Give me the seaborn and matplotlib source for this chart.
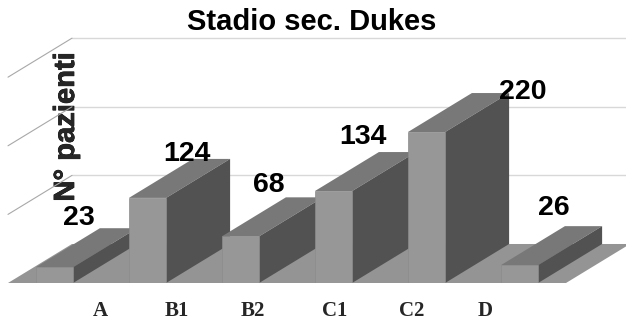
import matplotlib
matplotlib.use("Agg")
import matplotlib.pyplot as plt
import matplotlib.patheffects as pe
import pandas as pd
import seaborn as sns

# Patients per Dukes stage
stages = ["A", "B1", "B2", "C1", "C2", "D"]
patients = [23, 124, 68, 134, 220, 26]
grid_values = [100, 200, 300]

# Stage names sit on their own spacing along the floor edge
stage_label_positions = [0.49, 1.31, 2.13, 3.01, 3.84, 4.63]
# Value label offsets from the front top of each bar, in pixels
value_label_dx = [24, 39.5, 28, 29.5, 96, 34.5]
value_label_dy = [49, 44, 51, 54, 40, 57]

FRONT = "#979797"
TOP = "#787878"
SIDE = "#525252"
FLOOR = "#949494"
GRID = "#d8d8d8"
DEPTH_X = 64 / 93      # depth offset in category units
DEPTH_Y = 39 / 0.686   # depth offset in value units
PX = 72 / 100          # pixels to points at 100 dpi

sns.set_style("white")
plt.rcParams["font.family"] = ["Liberation Sans", "DejaVu Sans"]

frame = pd.DataFrame({"stage": stages, "patients": patients})

fig = plt.figure(figsize=(6.26, 3.2), dpi=100, facecolor="white")
ax = fig.add_axes([0, 37 / 320, 1, 282 / 320])
sns.barplot(data=frame, x="stage", y="patients", color=FRONT, saturation=1,
            width=0.4, edgecolor="#8c8c8c", linewidth=0.5, ax=ax)
ax.set_xlim(-0.586, 6.145)
ax.set_ylim(0, 411)

# Floor of the 3D box
ax.fill([-0.5, 5.5, 5.5 + DEPTH_X, -0.5 + DEPTH_X],
        [0, 0, DEPTH_Y, DEPTH_Y], color=FLOOR, lw=0, zorder=1, clip_on=True)

# Gridlines along the back wall and the left wall
for v in grid_values:
    y = v + DEPTH_Y
    ax.plot([-0.5 + DEPTH_X, 5.5 + DEPTH_X], [y, y], color=GRID, lw=1.0, zorder=0.5)
    ax.plot([-0.5, -0.5 + DEPTH_X], [v, y], color="#a8a8a8", lw=0.8, zorder=0.6)

# Extrude every bar: top and side faces first, then its front on top of them
for i, (bar, value) in enumerate(zip(ax.patches, patients)):
    x0, x1 = bar.get_x(), bar.get_x() + bar.get_width()
    z = 2 + i
    ax.fill([x0, x1, x1 + DEPTH_X, x0 + DEPTH_X],
            [value, value, value + DEPTH_Y, value + DEPTH_Y],
            color=TOP, lw=0, zorder=z)
    ax.fill([x1, x1 + DEPTH_X, x1 + DEPTH_X, x1],
            [0, DEPTH_Y, value + DEPTH_Y, value],
            color=SIDE, lw=0, zorder=z)
    bar.set_zorder(z + 0.5)
    ax.annotate(str(value), (i, value),
                xytext=(value_label_dx[i] * PX, value_label_dy[i] * PX),
                textcoords="offset points", ha="center", va="center",
                fontsize=20.5, fontweight="bold", color="black", zorder=20,
                annotation_clip=False)

ax.set_xticks(stage_label_positions, stages, family="Liberation Serif",
              fontweight="bold", fontsize=15)
ax.tick_params(axis="x", length=0, pad=13)
ax.set_yticks([])
ax.set_xlabel("")
ax.set_ylabel("N° pazienti", fontsize=21, fontweight="bold",
              path_effects=[pe.withStroke(linewidth=0.5, foreground="black")])
ax.yaxis.set_label_coords(80 / 626, (281 - 125) / 282)
sns.despine(ax=ax, left=True, bottom=True, top=True, right=True)

fig.text(312 / 626, 1 - 22 / 320, "Stadio sec. Dukes", ha="center", va="center",
         fontsize=21, fontweight="bold", color="black")

fig.savefig("out.png", dpi=100, facecolor="white")
